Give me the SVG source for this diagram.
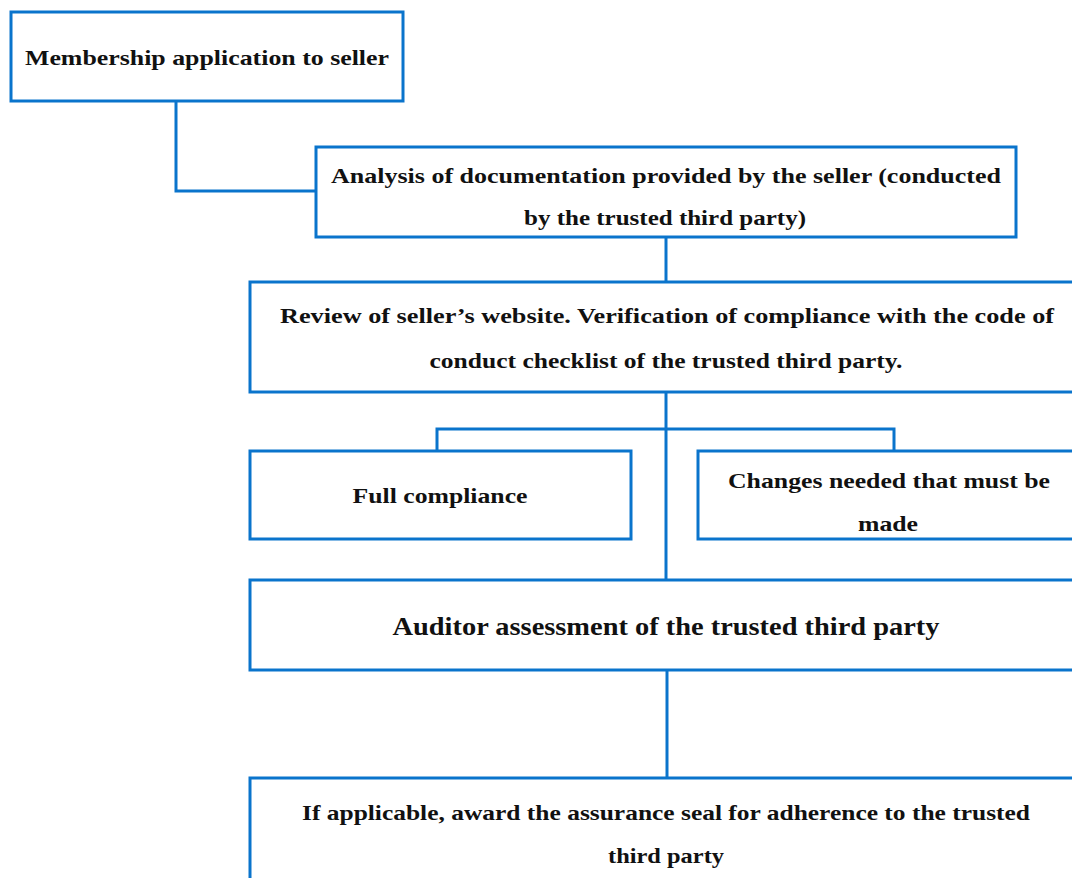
<svg xmlns="http://www.w3.org/2000/svg" width="1072" height="878" viewBox="0 0 1072 878">
<style>
.box{fill:#fff;stroke:#0A74CC;stroke-width:3}
.con{fill:none;stroke:#0A74CC;stroke-width:3}
text{font-family:"Liberation Serif","Times New Roman",serif;font-weight:bold;font-size:22px;fill:#111;text-anchor:middle}
.big{font-size:26px}
</style>
<rect width="1072" height="878" fill="#fff"/>
<g id="connectors">
<polyline class="con" points="176,101 176,191 316,191"/>
<line class="con" x1="666" y1="237" x2="666" y2="282"/>
<line class="con" x1="666" y1="392" x2="666" y2="580"/>
<polyline class="con" points="437,450 437,429 894,429 894,450"/>
<line class="con" x1="667" y1="670" x2="667" y2="778"/>
</g>
<g id="n1">
<rect class="box" x="11" y="12" width="392" height="89"/>
<text x="207" y="65" textLength="364" lengthAdjust="spacingAndGlyphs">Membership application to seller</text>
</g>
<g id="n2">
<rect class="box" x="316" y="147" width="700" height="90"/>
<text x="666" y="183" textLength="670" lengthAdjust="spacingAndGlyphs">Analysis of documentation provided by the seller (conducted</text>
<text x="665" y="225" textLength="282" lengthAdjust="spacingAndGlyphs">by the trusted third party)</text>
</g>
<g id="n3">
<rect class="box" x="250" y="282" width="834" height="110"/>
<text x="667" y="323" textLength="774" lengthAdjust="spacingAndGlyphs">Review of seller’s website. Verification of compliance with the code of</text>
<text x="666" y="368" textLength="473" lengthAdjust="spacingAndGlyphs">conduct checklist of the trusted third party.</text>
</g>
<g id="n4">
<rect class="box" x="250" y="451" width="381" height="88"/>
<text x="440" y="503" textLength="175" lengthAdjust="spacingAndGlyphs">Full compliance</text>
</g>
<g id="n5">
<rect class="box" x="698" y="451" width="386" height="88"/>
<text x="889" y="488" textLength="322" lengthAdjust="spacingAndGlyphs">Changes needed that must be</text>
<text x="888" y="531" textLength="60" lengthAdjust="spacingAndGlyphs">made</text>
</g>
<g id="n6">
<rect class="box" x="250" y="580" width="834" height="90"/>
<text class="big" x="666" y="635" textLength="547" lengthAdjust="spacingAndGlyphs">Auditor assessment of the trusted third party</text>
</g>
<g id="n7">
<rect class="box" x="250" y="778" width="834" height="110"/>
<text x="666" y="820" textLength="728" lengthAdjust="spacingAndGlyphs">If applicable, award the assurance seal for adherence to the trusted</text>
<text x="666" y="863" textLength="116" lengthAdjust="spacingAndGlyphs">third party</text>
</g>
</svg>
